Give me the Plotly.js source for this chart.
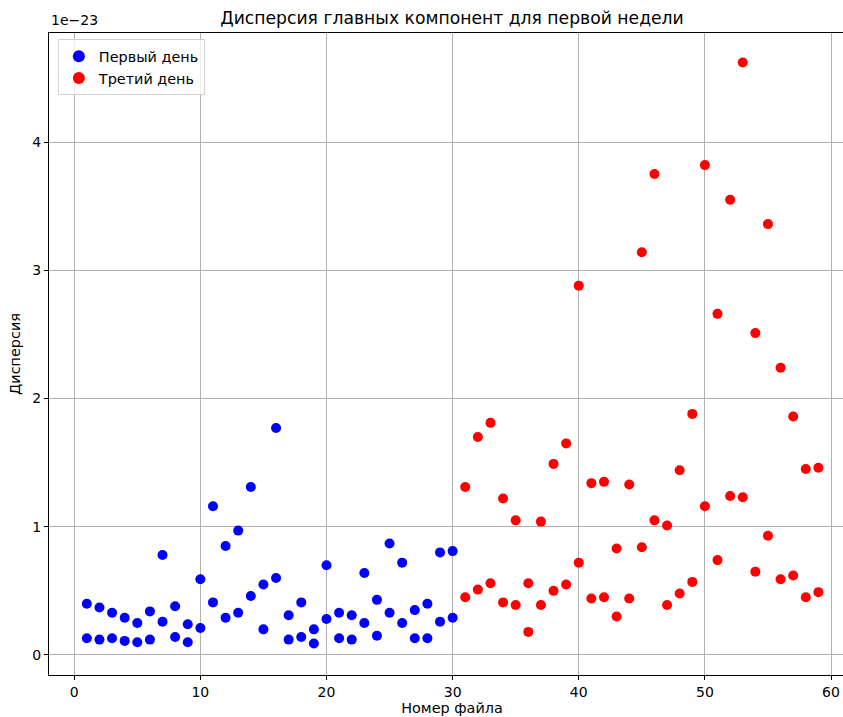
<!DOCTYPE html>
<html>
<head>
<meta charset="utf-8">
<script src="https://cdn.plot.ly/plotly-3.0.1.min.js"></script>
<style>html,body{margin:0;padding:0;background:#fff;overflow:hidden;}#chart{width:856px;height:717px;}</style>
</head>
<body>
<div id="chart"></div>
<script>
// values in units of 1e-23
const day1Files = [1,2,3,4,5,6,7,8,9,10,11,12,13,14,15,16,17,18,19,20,21,22,23,24,25,26,27,28,29,30];
const day1High = [0.40,0.37,0.33,0.29,0.25,0.34,0.78,0.38,0.24,0.59,1.16,0.85,0.97,1.31,0.55,1.77,0.31,0.41,0.20,0.70,0.33,0.31,0.64,0.43,0.87,0.72,0.35,0.40,0.80,0.81];
const day1Low  = [0.13,0.12,0.13,0.11,0.10,0.12,0.26,0.14,0.10,0.21,0.41,0.29,0.33,0.46,0.20,0.60,0.12,0.14,0.09,0.28,0.13,0.12,0.25,0.15,0.33,0.25,0.13,0.13,0.26,0.29];
const day3Files = [31,32,33,34,35,36,37,38,39,40,41,42,43,44,45,46,47,48,49,50,51,52,53,54,55,56,57,58,59];
const day3High = [1.31,1.70,1.81,1.22,1.05,0.56,1.04,1.49,1.65,2.88,1.34,1.35,0.83,1.33,3.14,3.75,1.01,1.44,1.88,3.82,2.66,3.55,4.62,2.51,3.36,2.24,1.86,1.45,1.46];
const day3Low  = [0.45,0.51,0.56,0.41,0.39,0.18,0.39,0.50,0.55,0.72,0.44,0.45,0.30,0.44,0.84,1.05,0.39,0.48,0.57,1.16,0.74,1.24,1.23,0.65,0.93,0.59,0.62,0.45,0.49];
const xTicks = [0,10,20,30,40,50,60];
const yTicks = [0,1,2,3,4];

const font = 'DejaVu Sans, sans-serif';
const traces = [
  {x: day1Files.concat(day1Files), y: day1High.concat(day1Low), mode:'markers', type:'scatter', name:'Первый день',
   marker:{color:'#0000ff', size:10}},
  {x: day3Files.concat(day3Files), y: day3High.concat(day3Low), mode:'markers', type:'scatter', name:'Третий день',
   marker:{color:'#ff0000', size:10}}
];
const axisCommon = {showgrid:true, gridcolor:'#b0b0b0', gridwidth:1, zeroline:false, showline:true, linecolor:'#000', linewidth:1,
  mirror:true, ticks:'outside', ticklen:4, tickcolor:'#000', tickfont:{family:font, size:14, color:'#000'}};
const layout = {
  width:856, height:717,
  margin:{l:49, r:1, t:33, b:42},
  paper_bgcolor:'#fff', plot_bgcolor:'#fff',
  font:{family:font, color:'#000'},
  title:{text:'Дисперсия главных компонент для первой недели', font:{family:font, size:17.2, color:'#000'},
    xref:'paper', x:0.5, xanchor:'center', y:0.975, yanchor:'middle'},
  xaxis:Object.assign({}, axisCommon, {range:[-2.0,61.9], tickvals:xTicks, ticktext:xTicks.map(String),
    title:{text:'Номер файла', font:{family:font, size:14.4, color:'#000'}, standoff:2}}),
  yaxis:Object.assign({}, axisCommon, {range:[-0.156,4.85], tickvals:yTicks, ticktext:yTicks.map(String),
    title:{text:'Дисперсия', font:{family:font, size:14.4, color:'#000'}, standoff:8}}),
  showlegend:true,
  legend:{x:0.011, y:0.99, xanchor:'left', yanchor:'top', bgcolor:'rgba(255,255,255,0.8)', bordercolor:'#d0d0d0', borderwidth:1,
    font:{family:font, size:14.4, color:'#000'}, itemsizing:'constant', tracegroupgap:2},
  annotations:[{text:'1e−23', xref:'paper', yref:'paper', x:0, y:1, xanchor:'left', yanchor:'bottom', yshift:3, showarrow:false,
    font:{family:font, size:14, color:'#000'}}]
};
Plotly.newPlot('chart', traces, layout, {displayModeBar:false});
</script>
</body>
</html>
